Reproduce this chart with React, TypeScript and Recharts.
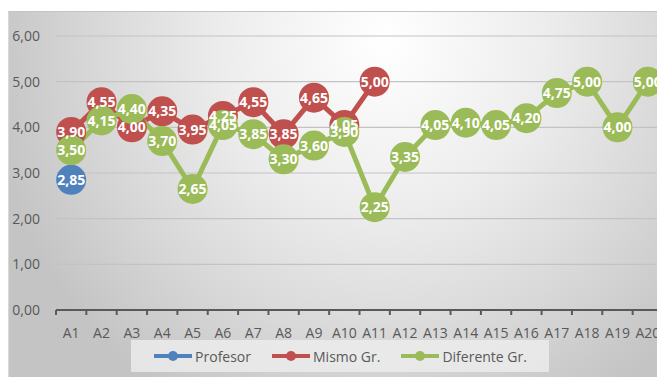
import { LineChart, Line, XAxis, YAxis, CartesianGrid, Legend, LabelList } from "recharts"

const categories = ["A1", "A2", "A3", "A4", "A5", "A6", "A7", "A8", "A9", "A10", "A11", "A12", "A13", "A14", "A15", "A16", "A17", "A18", "A19", "A20"]
const profesor = [2.85, null, null, null, null, null, null, null, null, null, null, null, null, null, null, null, null, null, null, null]
const mismoGr = [3.9, 4.55, 4.0, 4.35, 3.95, 4.25, 4.55, 3.85, 4.65, 4.05, 5.0, null, null, null, null, null, null, null, null, null]
const diferenteGr = [3.5, 4.15, 4.4, 3.7, 2.65, 4.05, 3.85, 3.3, 3.6, 3.9, 2.25, 3.35, 4.05, 4.1, 4.05, 4.2, 4.75, 5.0, 4.0, 5.0]
const yTicks = [0, 1, 2, 3, 4, 5, 6]

const series = [
  { key: "profesor", name: "Profesor", color: "#4F81BD" },
  { key: "mismo", name: "Mismo Gr.", color: "#C0504D" },
  { key: "diferente", name: "Diferente Gr.", color: "#9BBB59" },
]

const data = categories.map((c, i) => ({
  name: c,
  profesor: profesor[i],
  mismo: mismoGr[i],
  diferente: diferenteGr[i],
}))

const FONT = "'Open Sans', sans-serif"
const fmt = (v: number) => v.toFixed(2).replace(".", ",")

// white value text centered inside the big marker
const PointLabel = (props: any) => {
  const { x, y, value } = props
  if (value == null) return null
  return (
    <text x={x} y={y} dy="0.36em" textAnchor="middle" fill="#fff" fontSize={14} fontWeight={700} fontFamily={FONT}>
      {fmt(value)}
    </text>
  )
}

// category label with the tick mark on the left boundary of its band
const XTick = (props: any) => {
  const { x, y, payload, width, visibleTicksCount } = props
  const bw = width && visibleTicksCount ? width / visibleTicksCount : 30.3
  return (
    <g>
      <line x1={x - bw / 2} y1={y} x2={x - bw / 2} y2={y + 5} stroke="#595959" strokeWidth={2} />
      <text x={x} y={y + 28} textAnchor="middle" fill="#595959" fontSize={14} fontFamily={FONT}>
        {payload.value}
      </text>
    </g>
  )
}

const LegendBox = () => (
  <div
    style={{
      display: "flex",
      alignItems: "center",
      justifyContent: "center",
      gap: 20,
      height: 32,
      background: "rgba(238,238,238,0.8)",
      fontFamily: FONT,
      fontSize: 14,
      color: "#595959",
    }}
  >
    {series.map((s) => (
      <div key={s.key} style={{ display: "flex", alignItems: "center" }}>
        <svg width={40} height={12}>
          <line x1={1} y1={6} x2={39} y2={6} stroke={s.color} strokeWidth={4} />
          <circle cx={20} cy={6} r={5} fill={s.color} />
        </svg>
        <span style={{ marginLeft: 2 }}>{s.name}</span>
      </div>
    ))}
  </div>
)

export default function App() {
  return (
    <div
      style={{
        position: "absolute",
        left: 8,
        top: 11,
        width: 649,
        height: 366,
        overflow: "hidden",
        borderTop: "1px solid #c4c4c4",
        borderLeft: "1px solid #d8d8d8",
        boxSizing: "border-box",
        background:
          "radial-gradient(ellipse 62% 115% at 58% 8%, #ffffff 0%, #ededed 40%, #d8d8d8 72%, #c4c4c4 100%)",
      }}
    >
      <LineChart width={660} height={366} data={data} margin={{ top: 24, right: 6, bottom: 28, left: -1 }}>
        <CartesianGrid vertical={false} stroke="#c3c3c3" strokeWidth={1.2} />
        <YAxis
          domain={[0, 6]}
          ticks={yTicks}
          width={48}
          axisLine={false}
          tickLine={false}
          tickSize={0}
          tickMargin={16}
          tickFormatter={fmt}
          tick={{ fill: "#595959", fontSize: 14, fontFamily: FONT }}
        />
        <XAxis
          dataKey="name"
          scale="band"
          height={40}
          interval={0}
          tickSize={0}
          tickMargin={0}
          tickLine={false}
          axisLine={{ stroke: "#595959", strokeWidth: 2 }}
          tick={<XTick />}
        />
        <Legend
          layout="horizontal"
          verticalAlign="middle"
          align="center"
          wrapperStyle={{ left: 122, top: 328, width: 418, height: 32 }}
          content={<LegendBox />}
        />
        {series.map((s) => (
          <Line
            key={s.key}
            dataKey={s.key}
            name={s.name}
            stroke={s.color}
            strokeWidth={5}
            dot={{ r: 15, fill: s.color, stroke: s.color, strokeWidth: 0 }}
            activeDot={false}
            isAnimationActive={false}
          />
        ))}
        {series.map((s) => (
          <Line
            key={s.key + "-labels"}
            dataKey={s.key}
            stroke="none"
            dot={false}
            activeDot={false}
            legendType="none"
            isAnimationActive={false}
          >
            <LabelList dataKey={s.key} content={<PointLabel />} />
          </Line>
        ))}
      </LineChart>
    </div>
  )
}
